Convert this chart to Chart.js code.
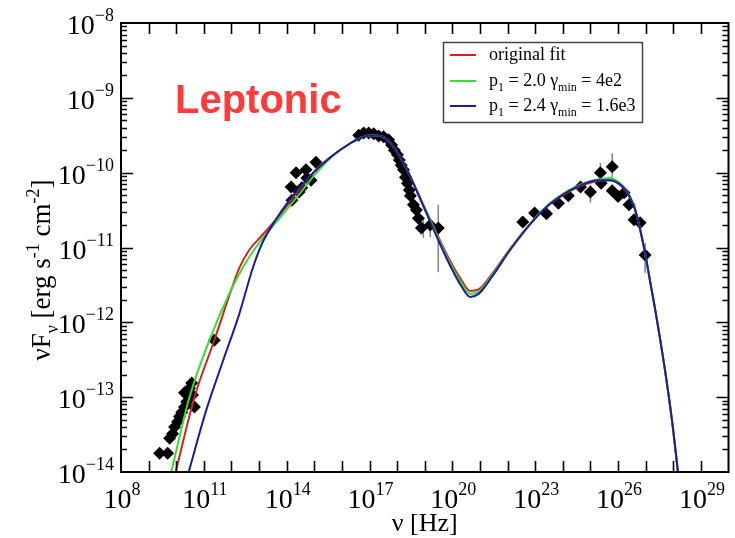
<!DOCTYPE html>
<html>
<head>
<meta charset="utf-8">
<script src="https://cdn.jsdelivr.net/npm/chart.js@4.4.1/dist/chart.umd.min.js"></script>
<style>
  html, body { margin: 0; padding: 0; background: #fff; }
  canvas { display: block; }
</style>
</head>
<body>
<canvas id="sed" width="735" height="538"></canvas>
<script>
// SED plot: log10 of nu [Hz] and log10 of nuFnu [erg s^-1 cm^-2]

const xTickExps = [8, 11, 14, 17, 20, 23, 26, 29];
const yTickExps = [-14, -13, -12, -11, -10, -9, -8];

// original fit (red)
const redLogNu = [9.98, 10.66, 11.38, 11.99, 12.29, 12.65, 13.08, 13.83, 14.45, 15.06, 15.63, 16.25, 16.71, 17.07, 17.4, 17.7, 17.94, 18.41, 18.88, 19.38, 19.85, 20.3, 20.65, 20.95, 21.4, 22.12, 22.84, 23.5, 24.06, 24.7, 25.25, 25.72, 26.0, 26.22, 26.58, 26.94, 27.16, 27.41, 27.7, 27.95, 28.17];
const redLogF = [-14, -13.0, -12.24, -11.57, -11.27, -11.03, -10.85, -10.53, -10.23, -9.96, -9.78, -9.62, -9.53, -9.5, -9.51, -9.58, -9.69, -10.0, -10.37, -10.77, -11.13, -11.42, -11.58, -11.56, -11.37, -11.0, -10.67, -10.43, -10.29, -10.17, -10.11, -10.1, -10.14, -10.22, -10.45, -11.0, -11.45, -11.97, -12.64, -13.3, -14];

// p1 = 2.0, gamma_min = 4e2 (green)
const greenLogNu = [9.82, 10.48, 11.2, 11.93, 12.47, 13.0, 13.83, 14.45, 15.06, 15.63, 16.25, 16.71, 17.07, 17.4, 17.7, 17.94, 18.41, 18.88, 19.38, 19.85, 20.3, 20.65, 20.95, 21.4, 22.12, 22.84, 23.5, 24.06, 24.7, 25.25, 25.72, 26.0, 26.22, 26.58, 26.94, 27.16, 27.41, 27.7, 27.95, 28.17];
const greenLogF = [-14, -13.0, -12.24, -11.61, -11.23, -10.94, -10.57, -10.29, -10.01, -9.79, -9.62, -9.53, -9.5, -9.51, -9.58, -9.69, -10.0, -10.38, -10.79, -11.16, -11.46, -11.62, -11.59, -11.39, -11.01, -10.67, -10.42, -10.27, -10.15, -10.09, -10.07, -10.12, -10.2, -10.44, -11.0, -11.45, -11.97, -12.64, -13.3, -14];

// p1 = 2.4, gamma_min = 1.6e3 (blue)
const blueLogNu = [10.45, 11.09, 11.67, 12.29, 12.75, 13.08, 13.55, 14.09, 14.81, 15.63, 16.25, 16.71, 17.07, 17.4, 17.7, 17.94, 18.41, 18.88, 19.38, 19.85, 20.3, 20.65, 20.95, 21.4, 22.12, 22.84, 23.5, 24.06, 24.7, 25.25, 25.72, 26.0, 26.22, 26.58, 26.94, 27.16, 27.41, 27.7, 27.95, 28.17];
const blueLogF = [-14, -13.17, -12.54, -11.88, -11.3, -10.97, -10.66, -10.37, -10.06, -9.78, -9.62, -9.53, -9.5, -9.51, -9.58, -9.69, -10.0, -10.39, -10.81, -11.19, -11.5, -11.66, -11.62, -11.41, -11.02, -10.68, -10.43, -10.28, -10.16, -10.1, -10.1, -10.14, -10.21, -10.45, -11.0, -11.45, -11.97, -12.64, -13.3, -14];

// observed points
const obsLogNu = [9.4, 9.69, 9.76, 9.87, 9.94, 10.05, 10.12, 10.2, 10.3, 10.38, 10.3, 10.48, 10.59, 10.66, 10.56, 11.38,
  14.16, 14.19, 14.34, 14.45, 14.55, 14.7, 14.73, 14.88, 15.06,
  16.61, 16.79, 16.97, 17.15, 17.33, 17.51, 17.69, 17.8, 17.9, 18.01, 18.08, 18.15, 18.23, 18.3, 18.37, 18.44, 18.48, 18.59, 18.7, 18.77, 18.88, 19.2, 19.49,
  22.55, 22.98, 23.41, 23.84, 24.2, 24.64, 25.0, 25.36, 25.79, 25.39, 25.79, 26.0, 26.22, 26.4, 26.58, 26.8, 26.98];
const obsLogF = [-13.75, -13.75, -13.55, -13.49, -13.4, -13.33, -13.26, -13.2, -13.13, -13.06, -12.94, -12.88, -12.97, -13.13, -12.81, -12.24,
  -10.19, -10.37, -10.0, -10.26, -10.2, -9.96, -10.07, -10.1, -9.86,
  -9.5, -9.47, -9.47, -9.48, -9.51, -9.52, -9.56, -9.63, -9.7, -9.76, -9.83, -9.9, -9.96, -10.06, -10.14, -10.23, -10.31, -10.43, -10.5, -10.61, -10.74, -10.7, -10.74,
  -10.66, -10.54, -10.55, -10.41, -10.31, -10.19, -10.26, -10.0, -9.92, -10.14, -10.24, -10.32, -10.27, -10.43, -10.63, -10.67, -11.1];

// error bars
const errLogNu = [18.95, 19.2, 19.49, 25.0, 25.36, 25.79, 26.98];
const errLogLo = [-10.87, -10.86, -11.33, -10.4, -10.14, -10.06, -11.34];
const errLogHi = [-10.63, -10.66, -10.43, -10.16, -9.87, -9.74, -10.94];

const SERIF = "'Liberation Serif', 'Times New Roman', serif";

function toPoints(logX, logY) {
  return logX.map((v, i) => ({ x: Math.pow(10, v), y: Math.pow(10, logY[i]) }));
}

function curve(label, logX, logY, color, order) {
  return {
    label,
    data: toPoints(logX, logY),
    borderColor: color,
    borderWidth: 2,
    pointRadius: 0,
    cubicInterpolationMode: "monotone",
    fill: false,
    order,
  };
}

// draw "10" with a superscript exponent
function drawPow(ctx, exp, x, baseline, align) {
  const base = "10";
  const sup = String(exp).replace("-", "\u2212");
  ctx.font = "28px " + SERIF;
  const wBase = ctx.measureText(base).width;
  ctx.font = "18px " + SERIF;
  const wSup = ctx.measureText(sup).width;
  let start = x;
  if (align === "center") start = x - (wBase + wSup) / 2;
  if (align === "right") start = x - (wBase + wSup);
  ctx.textAlign = "left";
  ctx.font = "28px " + SERIF;
  ctx.fillText(base, start, baseline);
  ctx.font = "18px " + SERIF;
  ctx.fillText(sup, start + wBase, baseline - 13);
}

// draw a run of [text, kind] pieces, kind: "n" normal, "sub", "sup"
function drawRich(ctx, pieces, x, y, size) {
  let cx = x;
  const small = Math.round(size * 0.65);
  pieces.forEach(([text, kind]) => {
    let dy = 0;
    if (kind === "sub") { ctx.font = small + "px " + SERIF; dy = size * 0.28; }
    else if (kind === "sup") { ctx.font = small + "px " + SERIF; dy = -size * 0.42; }
    else { ctx.font = size + "px " + SERIF; }
    ctx.fillText(text, cx, y + dy);
    cx += ctx.measureText(text).width;
  });
  return cx - x;
}

const errorBarPlugin = {
  id: "errorBars",
  beforeDatasetsDraw(chart) {
    const { ctx, scales: { x, y } } = chart;
    ctx.save();
    ctx.strokeStyle = "#808080";
    ctx.lineWidth = 1.5;
    errLogNu.forEach((v, i) => {
      const px = x.getPixelForValue(Math.pow(10, v));
      ctx.beginPath();
      ctx.moveTo(px, y.getPixelForValue(Math.pow(10, errLogLo[i])));
      ctx.lineTo(px, y.getPixelForValue(Math.pow(10, errLogHi[i])));
      ctx.stroke();
    });
    ctx.restore();
  },
};

const framePlugin = {
  id: "frame",
  afterDraw(chart) {
    const { ctx, chartArea: a, scales: { x, y } } = chart;
    ctx.save();
    ctx.fillStyle = "#000";
    ctx.strokeStyle = "#000";

    // frame
    ctx.lineWidth = 2;
    ctx.strokeRect(a.left, a.top, a.right - a.left, a.bottom - a.top);

    // x ticks, every decade, inward on bottom and top
    ctx.lineWidth = 1.6;
    ctx.beginPath();
    for (let e = 9; e < 30; e++) {
      const px = Math.round(x.getPixelForValue(Math.pow(10, e))) + 0.5;
      ctx.moveTo(px, a.bottom); ctx.lineTo(px, a.bottom - 11);
      ctx.moveTo(px, a.top); ctx.lineTo(px, a.top + 11);
    }
    // y ticks, major and minor, inward on left and right
    for (let e = -14; e < -8; e++) {
      for (let m = 1; m <= 9; m++) {
        if (e === -14 && m === 1) continue;
        const py = Math.round(y.getPixelForValue(m * Math.pow(10, e))) + 0.5;
        const len = m === 1 ? 12 : 6;
        ctx.moveTo(a.left, py); ctx.lineTo(a.left + len, py);
        ctx.moveTo(a.right, py); ctx.lineTo(a.right - len, py);
      }
    }
    ctx.stroke();

    // tick labels
    ctx.textBaseline = "alphabetic";
    xTickExps.forEach((e) => {
      drawPow(ctx, e, x.getPixelForValue(Math.pow(10, e)) + 1, a.bottom + 36, "center");
    });
    yTickExps.forEach((e) => {
      const py = y.getPixelForValue(Math.pow(10, e));
      drawPow(ctx, e, 114, py + 11, "right");
    });

    // axis titles
    ctx.textAlign = "left";
    ctx.font = "26px " + SERIF;
    const xt = "\u03bd [Hz]";
    const xw = ctx.measureText(xt).width;
    ctx.fillText(xt, (a.left + a.right) / 2 - xw / 2, 531);

    const yPieces = [["\u03bdF", "n"], ["\u03bd", "sub"], [" [erg s", "n"], ["-1", "sup"], [" cm", "n"], ["-2", "sup"], ["]", "n"]];
    ctx.save();
    ctx.translate(50, 270);
    ctx.rotate(-Math.PI / 2);
    const probe = document.createElement("canvas").getContext("2d");
    const yw = drawRich(probe, yPieces, 0, 0, 27);
    drawRich(ctx, yPieces, -yw / 2, 0, 27);
    ctx.restore();

    // legend
    const lx = 443.5, ly = 42.5, lw = 199, lh = 80;
    ctx.fillStyle = "#fff";
    ctx.fillRect(lx, ly, lw, lh);
    ctx.strokeStyle = "#444";
    ctx.lineWidth = 1.5;
    ctx.strokeRect(lx, ly, lw, lh);
    const entries = [
      { color: "#d42020", y: 55, pieces: [["original fit", "n"]] },
      { color: "#2fe02f", y: 81, pieces: [["p", "n"], ["1", "sub"], [" = 2.0 \u03b3", "n"], ["min", "sub"], [" = 4e2", "n"]] },
      { color: "#1c1ca0", y: 106, pieces: [["p", "n"], ["1", "sub"], [" = 2.4 \u03b3", "n"], ["min", "sub"], [" = 1.6e3", "n"]] },
    ];
    ctx.fillStyle = "#000";
    entries.forEach((en) => {
      ctx.strokeStyle = en.color;
      ctx.lineWidth = 2;
      ctx.beginPath();
      ctx.moveTo(450, en.y); ctx.lineTo(476, en.y);
      ctx.stroke();
      drawRich(ctx, en.pieces, 489, en.y + 5, 18);
    });

    // label
    ctx.fillStyle = "#ff3a3a";
    ctx.font = "bold 40px 'Liberation Sans', Arial, sans-serif";
    ctx.fillText("Leptonic", 175, 113);

    ctx.restore();
  },
};

new Chart(document.getElementById("sed"), {
  type: "line",
  data: {
    datasets: [
      curve("p1 = 2.4 gmin = 1.6e3", blueLogNu, blueLogF, "#1c1ca0", 1),
      curve("p1 = 2.0 gmin = 4e2", greenLogNu, greenLogF, "#2fe02f", 2),
      curve("original fit", redLogNu, redLogF, "#d42020", 3),
      {
        label: "data",
        data: toPoints(obsLogNu, obsLogF),
        showLine: false,
        pointStyle: "rectRot",
        pointRadius: 6.5,
        pointBackgroundColor: "#000",
        pointBorderColor: "#000",
        pointBorderWidth: 0,
        order: 4,
      },
    ],
  },
  options: {
    responsive: false,
    animation: false,
    layout: { padding: { left: 121, top: 23, right: 3, bottom: 66 } },
    plugins: {
      legend: { display: false },
      tooltip: { enabled: false },
    },
    scales: {
      x: { type: "logarithmic", min: 1e8, max: 1e30, display: false },
      y: { type: "logarithmic", min: 1e-14, max: 1e-8, display: false },
    },
  },
  plugins: [errorBarPlugin, framePlugin],
});
</script>
</body>
</html>
